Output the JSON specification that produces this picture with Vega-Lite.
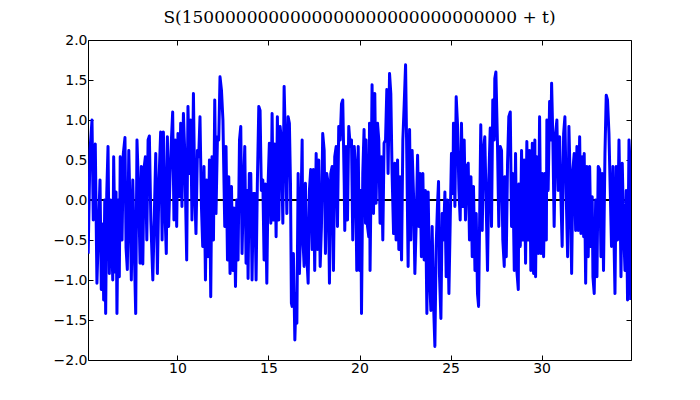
{
  "$schema": "https://vega.github.io/schema/vega-lite/v6.json",
  "width": 543,
  "height": 320,
  "autosize": "none",
  "padding": {"left": 88, "top": 40, "right": 69, "bottom": 40},
  "background": "white",
  "config": {
    "view": {"stroke": "black", "strokeWidth": 1},
    "font": "DejaVu Sans"
  },
  "title": {
    "text": "S(1500000000000000000000000000000 + t)",
    "font": "DejaVu Serif",
    "fontSize": 17,
    "fontWeight": "normal",
    "color": "black",
    "offset": 6
  },
  "data": {
    "values": [
      {"t": 5.10, "s": -0.67}, {"t": 5.20, "s": 0.62}, {"t": 5.31, "s": 1.0}, {"t": 5.38, "s": -0.25},
      {"t": 5.49, "s": 0.7}, {"t": 5.58, "s": -1.04}, {"t": 5.68, "s": -0.25}, {"t": 5.75, "s": 0.25},
      {"t": 5.82, "s": -1.12}, {"t": 5.90, "s": -0.3}, {"t": 5.95, "s": -1.25}, {"t": 6.01, "s": 0.0},
      {"t": 6.06, "s": -1.42}, {"t": 6.12, "s": 0.08}, {"t": 6.19, "s": 0.67}, {"t": 6.26, "s": -0.92},
      {"t": 6.34, "s": 0.0}, {"t": 6.45, "s": -1.0}, {"t": 6.50, "s": 0.54}, {"t": 6.59, "s": -0.9},
      {"t": 6.63, "s": 0.1}, {"t": 6.68, "s": -1.42}, {"t": 6.75, "s": 0.0}, {"t": 6.81, "s": -0.96},
      {"t": 6.86, "s": 0.54}, {"t": 6.96, "s": -0.5}, {"t": 7.03, "s": 0.58}, {"t": 7.12, "s": 0.78},
      {"t": 7.18, "s": -0.6}, {"t": 7.25, "s": -0.87}, {"t": 7.33, "s": 0.62}, {"t": 7.40, "s": -0.1},
      {"t": 7.47, "s": -1.0}, {"t": 7.55, "s": 0.25}, {"t": 7.63, "s": -0.6}, {"t": 7.71, "s": -1.42},
      {"t": 7.78, "s": 0.75}, {"t": 7.87, "s": 0.1}, {"t": 7.95, "s": -0.79}, {"t": 8.02, "s": 0.42},
      {"t": 8.10, "s": -0.8}, {"t": 8.17, "s": 0.4}, {"t": 8.24, "s": 0.54}, {"t": 8.32, "s": -0.5},
      {"t": 8.39, "s": 0.75}, {"t": 8.46, "s": 0.8}, {"t": 8.54, "s": -0.25}, {"t": 8.65, "s": -1.0},
      {"t": 8.81, "s": 0.58}, {"t": 8.90, "s": -0.92}, {"t": 8.99, "s": 0.25}, {"t": 9.08, "s": 0.85},
      {"t": 9.16, "s": -0.5}, {"t": 9.23, "s": 0.85}, {"t": 9.32, "s": -0.17}, {"t": 9.39, "s": -0.67},
      {"t": 9.45, "s": 0.79}, {"t": 9.52, "s": -0.33}, {"t": 9.60, "s": 0.33}, {"t": 9.67, "s": 0.75},
      {"t": 9.74, "s": 1.1}, {"t": 9.81, "s": -0.25}, {"t": 9.89, "s": 0.75}, {"t": 9.96, "s": -0.33},
      {"t": 10.03, "s": 0.83}, {"t": 10.11, "s": 0.04}, {"t": 10.18, "s": 0.96}, {"t": 10.25, "s": -0.08},
      {"t": 10.33, "s": 1.08}, {"t": 10.40, "s": 0.62}, {"t": 10.47, "s": -0.25}, {"t": 10.51, "s": -0.75},
      {"t": 10.58, "s": 1.17}, {"t": 10.66, "s": 0.33}, {"t": 10.73, "s": 1.0}, {"t": 10.80, "s": -0.25},
      {"t": 10.88, "s": 1.33}, {"t": 10.95, "s": 0.12}, {"t": 11.02, "s": -0.42}, {"t": 11.10, "s": 0.62},
      {"t": 11.17, "s": 0.54}, {"t": 11.24, "s": 1.04}, {"t": 11.32, "s": -0.08}, {"t": 11.39, "s": -0.58},
      {"t": 11.46, "s": 0.42}, {"t": 11.54, "s": -1.0}, {"t": 11.61, "s": 0.25}, {"t": 11.68, "s": -0.71},
      {"t": 11.76, "s": 0.5}, {"t": 11.83, "s": -1.21}, {"t": 11.90, "s": 0.54}, {"t": 11.98, "s": -0.5},
      {"t": 12.05, "s": 1.25}, {"t": 12.12, "s": -0.17}, {"t": 12.20, "s": 0.79}, {"t": 12.27, "s": 0.75},
      {"t": 12.34, "s": 1.54}, {"t": 12.42, "s": 1.37}, {"t": 12.50, "s": 1.0}, {"t": 12.60, "s": -0.33},
      {"t": 12.67, "s": 0.67}, {"t": 12.75, "s": -0.75}, {"t": 12.82, "s": 0.29}, {"t": 12.89, "s": -0.92},
      {"t": 12.97, "s": 0.17}, {"t": 13.04, "s": -0.88}, {"t": 13.11, "s": -0.1}, {"t": 13.19, "s": -1.08},
      {"t": 13.26, "s": 0.0}, {"t": 13.33, "s": -0.75}, {"t": 13.41, "s": 0.75}, {"t": 13.48, "s": 0.92},
      {"t": 13.55, "s": -0.67}, {"t": 13.63, "s": 0.17}, {"t": 13.70, "s": 0.67}, {"t": 13.77, "s": -0.79},
      {"t": 13.84, "s": 0.12}, {"t": 13.88, "s": -0.98}, {"t": 13.95, "s": 0.33}, {"t": 14.03, "s": 0.33},
      {"t": 14.10, "s": -1.0}, {"t": 14.17, "s": 0.08}, {"t": 14.25, "s": 0.08}, {"t": 14.32, "s": -1.0},
      {"t": 14.39, "s": 0.2}, {"t": 14.47, "s": 1.17}, {"t": 14.54, "s": 1.12}, {"t": 14.61, "s": 0.12},
      {"t": 14.69, "s": 0.25}, {"t": 14.76, "s": -0.75}, {"t": 14.83, "s": 0.2}, {"t": 14.91, "s": -1.04},
      {"t": 14.98, "s": 0.2}, {"t": 15.05, "s": 0.71}, {"t": 15.13, "s": -0.29}, {"t": 15.20, "s": 1.08},
      {"t": 15.27, "s": -0.25}, {"t": 15.35, "s": 0.7}, {"t": 15.42, "s": -0.46}, {"t": 15.49, "s": 1.04},
      {"t": 15.57, "s": -0.25}, {"t": 15.64, "s": 0.92}, {"t": 15.71, "s": 0.75}, {"t": 15.79, "s": -0.29},
      {"t": 15.86, "s": 1.42}, {"t": 15.93, "s": 0.75}, {"t": 16.01, "s": -0.17}, {"t": 16.08, "s": 1.04},
      {"t": 16.15, "s": 0.96}, {"t": 16.21, "s": 0.2}, {"t": 16.26, "s": -1.29}, {"t": 16.30, "s": -1.33},
      {"t": 16.37, "s": -0.67}, {"t": 16.45, "s": -1.75}, {"t": 16.52, "s": -1.17}, {"t": 16.56, "s": -1.54},
      {"t": 16.63, "s": 0.33}, {"t": 16.70, "s": -0.92}, {"t": 16.77, "s": -0.33}, {"t": 16.85, "s": 0.75},
      {"t": 16.88, "s": -0.42}, {"t": 16.96, "s": -0.83}, {"t": 17.03, "s": 0.21}, {"t": 17.10, "s": -0.67},
      {"t": 17.18, "s": -1.04}, {"t": 17.25, "s": 0.12}, {"t": 17.32, "s": 0.38}, {"t": 17.40, "s": -0.62},
      {"t": 17.47, "s": 0.38}, {"t": 17.54, "s": -0.88}, {"t": 17.62, "s": 0.58}, {"t": 17.69, "s": -0.62},
      {"t": 17.76, "s": 0.5}, {"t": 17.84, "s": -0.83}, {"t": 17.91, "s": -0.33}, {"t": 17.98, "s": 0.83},
      {"t": 18.06, "s": 0.62}, {"t": 18.13, "s": -0.67}, {"t": 18.20, "s": 0.33}, {"t": 18.28, "s": 0.21},
      {"t": 18.35, "s": -1.04}, {"t": 18.42, "s": 0.33}, {"t": 18.50, "s": 0.42}, {"t": 18.57, "s": -0.88},
      {"t": 18.64, "s": 0.54}, {"t": 18.72, "s": 0.67}, {"t": 18.79, "s": -0.33}, {"t": 18.86, "s": 0.92},
      {"t": 18.94, "s": 0.75}, {"t": 19.01, "s": 1.2}, {"t": 19.08, "s": 1.25}, {"t": 19.16, "s": 0.21},
      {"t": 19.19, "s": -0.38}, {"t": 19.27, "s": 0.67}, {"t": 19.34, "s": -0.25}, {"t": 19.41, "s": 0.92},
      {"t": 19.49, "s": 0.67}, {"t": 19.56, "s": 0.75}, {"t": 19.63, "s": -0.5}, {"t": 19.71, "s": 0.67},
      {"t": 19.78, "s": 0.42}, {"t": 19.85, "s": -0.88}, {"t": 19.93, "s": 0.67}, {"t": 20.00, "s": -0.88},
      {"t": 20.07, "s": 0.12}, {"t": 20.11, "s": -1.42}, {"t": 20.18, "s": 0.33}, {"t": 20.25, "s": 0.88},
      {"t": 20.33, "s": -0.29}, {"t": 20.36, "s": 0.75}, {"t": 20.44, "s": -0.33}, {"t": 20.51, "s": -0.46},
      {"t": 20.55, "s": 0.96}, {"t": 20.58, "s": -0.88}, {"t": 20.66, "s": 0.75}, {"t": 20.69, "s": 1.44},
      {"t": 20.77, "s": -0.17}, {"t": 20.84, "s": 1.33}, {"t": 20.91, "s": -0.04}, {"t": 20.99, "s": 0.96},
      {"t": 21.06, "s": 0.75}, {"t": 21.13, "s": -0.29}, {"t": 21.21, "s": 0.54}, {"t": 21.28, "s": -0.5},
      {"t": 21.35, "s": 0.71}, {"t": 21.43, "s": 0.75}, {"t": 21.50, "s": 1.38}, {"t": 21.57, "s": 0.33},
      {"t": 21.65, "s": 1.58}, {"t": 21.72, "s": 1.33}, {"t": 21.79, "s": 0.33}, {"t": 21.87, "s": -0.42},
      {"t": 21.94, "s": 0.46}, {"t": 22.01, "s": -0.5}, {"t": 22.09, "s": 0.5}, {"t": 22.16, "s": -0.62},
      {"t": 22.23, "s": 0.29}, {"t": 22.31, "s": -0.75}, {"t": 22.38, "s": 0.75}, {"t": 22.45, "s": 1.17},
      {"t": 22.53, "s": 1.69}, {"t": 22.60, "s": 0.5}, {"t": 22.67, "s": -0.83}, {"t": 22.75, "s": 0.88},
      {"t": 22.82, "s": -0.5}, {"t": 22.89, "s": 0.62}, {"t": 22.97, "s": 0.04}, {"t": 23.04, "s": -0.92},
      {"t": 23.11, "s": -0.33}, {"t": 23.19, "s": 0.56}, {"t": 23.26, "s": -0.33}, {"t": 23.33, "s": 0.33},
      {"t": 23.40, "s": -0.71}, {"t": 23.48, "s": 0.33}, {"t": 23.55, "s": -0.75}, {"t": 23.62, "s": 0.12},
      {"t": 23.70, "s": -1.42}, {"t": 23.77, "s": 0.1}, {"t": 23.84, "s": -0.92}, {"t": 23.92, "s": -1.38},
      {"t": 23.99, "s": -0.33}, {"t": 24.06, "s": -1.25}, {"t": 24.14, "s": -1.83}, {"t": 24.21, "s": -0.58},
      {"t": 24.28, "s": -0.08}, {"t": 24.34, "s": 0.23}, {"t": 24.39, "s": -0.92}, {"t": 24.47, "s": -1.48},
      {"t": 24.54, "s": -0.17}, {"t": 24.61, "s": -0.5}, {"t": 24.69, "s": 0.1}, {"t": 24.76, "s": -0.96},
      {"t": 24.83, "s": 0.0}, {"t": 24.91, "s": -1.17}, {"t": 24.98, "s": -0.29}, {"t": 25.05, "s": 0.58},
      {"t": 25.13, "s": 0.08}, {"t": 25.16, "s": 0.96}, {"t": 25.24, "s": -0.08}, {"t": 25.31, "s": 1.29},
      {"t": 25.38, "s": 0.96}, {"t": 25.46, "s": 0.12}, {"t": 25.53, "s": -0.25}, {"t": 25.60, "s": 0.96},
      {"t": 25.68, "s": -0.08}, {"t": 25.75, "s": 0.75}, {"t": 25.82, "s": -0.25}, {"t": 25.90, "s": 0.42},
      {"t": 25.97, "s": 0.46}, {"t": 26.04, "s": -0.5}, {"t": 26.12, "s": 0.29}, {"t": 26.19, "s": -0.71},
      {"t": 26.26, "s": 0.17}, {"t": 26.34, "s": -0.88}, {"t": 26.41, "s": -0.17}, {"t": 26.48, "s": -1.17},
      {"t": 26.54, "s": -1.33}, {"t": 26.59, "s": -0.38}, {"t": 26.66, "s": 0.94}, {"t": 26.74, "s": -0.38},
      {"t": 26.81, "s": 0.62}, {"t": 26.88, "s": 0.79}, {"t": 26.96, "s": -0.08}, {"t": 27.03, "s": -0.88},
      {"t": 27.10, "s": 0.25}, {"t": 27.18, "s": 0.9}, {"t": 27.25, "s": -0.33}, {"t": 27.32, "s": 1.25},
      {"t": 27.40, "s": 0.75}, {"t": 27.43, "s": 1.52}, {"t": 27.49, "s": 1.6}, {"t": 27.58, "s": 0.67},
      {"t": 27.65, "s": -0.33}, {"t": 27.73, "s": 0.67}, {"t": 27.80, "s": 0.62}, {"t": 27.87, "s": -0.5},
      {"t": 27.95, "s": -0.83}, {"t": 27.98, "s": 0.29}, {"t": 28.06, "s": -0.71}, {"t": 28.13, "s": 0.46},
      {"t": 28.20, "s": 1.04}, {"t": 28.28, "s": 1.1}, {"t": 28.35, "s": -0.33}, {"t": 28.42, "s": 0.33},
      {"t": 28.50, "s": -0.88}, {"t": 28.57, "s": 0.58}, {"t": 28.64, "s": -0.88}, {"t": 28.72, "s": -1.12},
      {"t": 28.75, "s": 0.2}, {"t": 28.83, "s": -0.58}, {"t": 28.90, "s": 0.62}, {"t": 28.97, "s": -0.5},
      {"t": 29.05, "s": 0.5}, {"t": 29.12, "s": -0.79}, {"t": 29.19, "s": 0.73}, {"t": 29.27, "s": -0.5},
      {"t": 29.34, "s": 0.62}, {"t": 29.41, "s": -0.88}, {"t": 29.49, "s": 0.71}, {"t": 29.56, "s": -0.92},
      {"t": 29.63, "s": 0.75}, {"t": 29.67, "s": -0.96}, {"t": 29.74, "s": 0.54}, {"t": 29.82, "s": -0.67},
      {"t": 29.89, "s": 1.04}, {"t": 29.96, "s": -0.67}, {"t": 30.04, "s": 0.33}, {"t": 30.11, "s": -0.71},
      {"t": 30.18, "s": 0.33}, {"t": 30.26, "s": -0.5}, {"t": 30.29, "s": 1.0}, {"t": 30.36, "s": 0.12},
      {"t": 30.44, "s": 1.23}, {"t": 30.51, "s": 0.75}, {"t": 30.55, "s": 1.46}, {"t": 30.62, "s": 0.75},
      {"t": 30.69, "s": -0.33}, {"t": 30.77, "s": 0.83}, {"t": 30.84, "s": 1.0}, {"t": 30.91, "s": 0.12},
      {"t": 30.99, "s": 0.79}, {"t": 31.06, "s": 0.04}, {"t": 31.13, "s": -0.58}, {"t": 31.21, "s": 0.83},
      {"t": 31.28, "s": 1.04}, {"t": 31.35, "s": 0.08}, {"t": 31.43, "s": -0.71}, {"t": 31.50, "s": 0.92},
      {"t": 31.57, "s": 0.25}, {"t": 31.65, "s": -0.92}, {"t": 31.72, "s": 0.38}, {"t": 31.79, "s": 0.58},
      {"t": 31.87, "s": -0.38}, {"t": 31.94, "s": 0.67}, {"t": 32.01, "s": -0.38}, {"t": 32.09, "s": 0.79},
      {"t": 32.16, "s": -0.42}, {"t": 32.23, "s": 0.54}, {"t": 32.31, "s": -0.46}, {"t": 32.34, "s": 0.58},
      {"t": 32.42, "s": -1.04}, {"t": 32.49, "s": 0.42}, {"t": 32.56, "s": -0.71}, {"t": 32.64, "s": 0.42},
      {"t": 32.71, "s": -0.58}, {"t": 32.78, "s": 0.04}, {"t": 32.82, "s": -0.96}, {"t": 32.89, "s": -1.17},
      {"t": 32.97, "s": 0.0}, {"t": 33.04, "s": -0.96}, {"t": 33.11, "s": 0.42}, {"t": 33.19, "s": 0.38},
      {"t": 33.26, "s": -0.71}, {"t": 33.33, "s": 0.33}, {"t": 33.40, "s": -0.88}, {"t": 33.48, "s": 0.58},
      {"t": 33.55, "s": 1.31}, {"t": 33.62, "s": 1.25}, {"t": 33.70, "s": 0.83}, {"t": 33.77, "s": 0.12},
      {"t": 33.84, "s": -0.58}, {"t": 33.92, "s": 0.42}, {"t": 33.99, "s": -0.67}, {"t": 34.03, "s": -1.17},
      {"t": 34.10, "s": 0.42}, {"t": 34.17, "s": -0.5}, {"t": 34.25, "s": 0.75}, {"t": 34.32, "s": -0.21},
      {"t": 34.36, "s": -0.96}, {"t": 34.43, "s": 0.46}, {"t": 34.50, "s": -0.33}, {"t": 34.58, "s": -0.88},
      {"t": 34.65, "s": 0.12}, {"t": 34.72, "s": -1.25}, {"t": 34.80, "s": 0.75}, {"t": 34.85, "s": 0.5},
      {"t": 34.89, "s": -1.25}
    ]
  },
  "layer": [
    {
      "mark": {"type": "rule", "color": "black", "strokeWidth": 1},
      "encoding": {
        "y": {"datum": 0, "type": "quantitative", "scale": {"domain": [-2, 2], "nice": false, "zero": false},
          "axis": {"orient": "right", "values": [-2, -1.5, -1, -0.5, 0, 0.5, 1, 1.5, 2], "labels": false, "domain": false, "grid": false, "tickSize": -5, "tickColor": "black", "title": null}}
      }
    },
    {
      "mark": {"type": "line", "color": "#0000ff", "strokeWidth": 3, "strokeJoin": "round", "clip": true},
      "encoding": {
        "x": {"field": "t", "type": "quantitative", "scale": {"domain": [5.09, 34.91], "nice": false, "zero": false},
          "axis": {"orient": "bottom", "values": [10, 15, 20, 25, 30], "format": "d", "labelFontSize": 14, "labelColor": "black", "labelFont": "DejaVu Sans", "labelPadding": 6, "domain": false, "grid": false, "tickSize": -5, "tickColor": "black", "title": null}},
        "y": {"field": "s", "type": "quantitative", "scale": {"domain": [-2, 2], "nice": false, "zero": false},
          "axis": {"orient": "left", "values": [-2, -1.5, -1, -0.5, 0, 0.5, 1, 1.5, 2], "format": ".1f", "labelFontSize": 14, "labelColor": "black", "labelFont": "DejaVu Sans", "labelPadding": 6, "domain": false, "grid": false, "tickSize": -5, "tickColor": "black", "title": null}}
      }
    },
    {
      "mark": {"type": "rule", "opacity": 0},
      "encoding": {
        "x": {"datum": 10, "type": "quantitative",
          "axis": {"orient": "top", "values": [10, 15, 20, 25, 30], "labels": false, "domain": false, "grid": false, "tickSize": -5, "tickColor": "black", "title": null}}
      }
    }
  ]
}
